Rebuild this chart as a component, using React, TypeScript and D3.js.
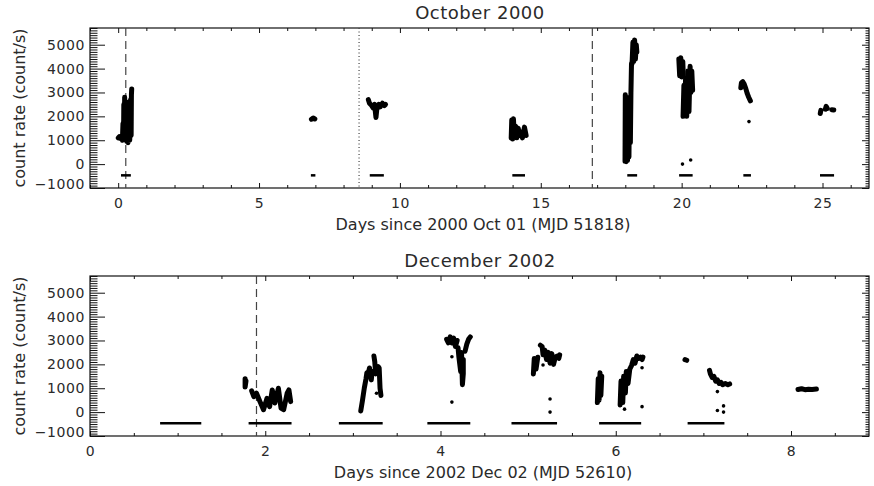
import React, { useEffect, useRef } from 'react';
import * as d3 from 'd3';

type Pt = [number, number];

// October 2000 light curve (days since MJD 51818, count/s)
const octStreaks: Pt[][] = [
  [[0.0, 1100], [0.04, 1150], [0.08, 1080], [0.12, 1120], [0.15, 1000], [0.17, 1700], [0.19, 1050], [0.2, 2500], [0.22, 1100], [0.23, 2800], [0.25, 1300], [0.27, 2300], [0.3, 950], [0.32, 2100], [0.35, 900], [0.38, 2600], [0.41, 1000], [0.44, 2700], [0.46, 1200], [0.47, 2900], [0.48, 3150]],
  [[6.86, 1880], [6.92, 1930], [6.98, 1890]],
  [[8.88, 2700], [8.92, 2550], [9.0, 2450], [9.05, 2350], [9.1, 2500], [9.15, 1950], [9.18, 2300], [9.25, 2500], [9.3, 2400], [9.38, 2550], [9.45, 2450], [9.49, 2500]],
  [[13.95, 1100], [13.97, 1850], [14.0, 1050], [14.03, 1900], [14.06, 1150], [14.1, 1600], [14.15, 1100], [14.2, 1500], [14.25, 1200], [14.3, 1350], [14.35, 1100], [14.42, 1550], [14.48, 1200]],
  [[17.99, 120], [18.0, 2900], [18.03, 100], [18.05, 2600], [18.08, 150], [18.1, 2200], [18.13, 300], [18.15, 2800], [18.18, 900], [18.2, 3000], [18.21, 3600], [18.22, 4200]],
  [[18.24, 4200], [18.27, 5100], [18.3, 4300], [18.33, 5200], [18.36, 4400], [18.39, 5000], [18.41, 4700]],
  [[19.9, 4400], [19.93, 3700], [19.97, 4450], [20.0, 3650], [20.04, 4300], [20.06, 3700]],
  [[20.05, 2000], [20.08, 3300], [20.1, 2100], [20.14, 3600], [20.18, 2000], [20.22, 3900], [20.26, 2200], [20.3, 4100], [20.33, 3000], [20.36, 3900], [20.39, 3100]],
  [[22.1, 3200], [22.12, 3400], [22.17, 3450], [22.22, 3350], [22.28, 3150], [22.33, 2950], [22.38, 2800], [22.44, 2650]],
  [[24.92, 2120], [24.94, 2250]],
  [[25.1, 2300], [25.13, 2420], [25.17, 2330]],
  [[25.33, 2280], [25.4, 2270]],
];
const octDots: Pt[] = [[20.03, 0], [20.32, 170], [22.39, 1780]];
const octBars: Pt[] = [[0.1, 0.45], [6.84, 7.0], [8.93, 9.43], [13.99, 14.44], [18.07, 18.42], [19.91, 20.39], [22.19, 22.46], [24.91, 25.41]];
const octDashed = [0.27, 16.83];
const octDotted = [8.55];

// December 2002 light curve (days since MJD 52610, count/s)
const decStreaks: Pt[][] = [
  [[1.77, 1400], [1.77, 1050], [1.78, 1300]],
  [[1.845, 890], [1.87, 650], [1.9, 790], [1.94, 440], [1.98, 100], [2.02, 580], [2.05, 230], [2.08, 930], [2.11, 380], [2.15, 1000], [2.18, 170], [2.21, 100], [2.25, 790], [2.27, 930], [2.29, 440]],
  [[3.09, 50], [3.11, 500], [3.13, 1000], [3.15, 1400], [3.16, 1650], [3.18, 1700], [3.19, 1850], [3.21, 1350], [3.22, 1700]],
  [[3.24, 2350], [3.25, 2100], [3.26, 1600], [3.27, 1800], [3.29, 1900], [3.3, 1850], [3.31, 1000], [3.32, 700]],
  [[4.07, 3050], [4.09, 2900], [4.11, 3150], [4.13, 2900], [4.15, 3100], [4.17, 2750], [4.19, 3000]],
  [[4.2, 2700], [4.21, 2300], [4.23, 1700], [4.24, 2500], [4.25, 1150], [4.26, 1600], [4.26, 2200]],
  [[4.28, 2550], [4.3, 2850], [4.32, 3050], [4.34, 3150]],
  [[5.06, 1600], [5.07, 2250], [5.09, 1800], [5.11, 2300]],
  [[5.14, 2800], [5.16, 2750], [5.17, 2400], [5.19, 2600], [5.21, 2200], [5.23, 2500], [5.25, 2050], [5.27, 2450], [5.29, 2000], [5.31, 2300], [5.33, 2350], [5.35, 2250], [5.36, 2400]],
  [[5.79, 400], [5.8, 1400], [5.81, 500], [5.82, 1650], [5.83, 700], [5.84, 1500]],
  [[6.05, 300], [6.06, 1300], [6.08, 400], [6.09, 1500], [6.11, 800], [6.12, 1700], [6.14, 1200], [6.16, 1800], [6.18, 1950], [6.2, 2200], [6.22, 2050], [6.24, 2350], [6.26, 2250], [6.28, 2300], [6.3, 2200], [6.31, 2300]],
  [[6.79, 2200], [6.81, 2170]],
  [[7.07, 1750], [7.08, 1600], [7.1, 1450], [7.12, 1500], [7.14, 1300], [7.16, 1350], [7.18, 1200], [7.2, 1250], [7.22, 1150], [7.25, 1200], [7.28, 1150], [7.3, 1180]],
  [[8.08, 950], [8.12, 980], [8.16, 940], [8.2, 960], [8.24, 950], [8.29, 970]],
];
const decDots: Pt[] = [[3.27, 790], [4.13, 2320], [4.13, 420], [5.17, 1970], [5.25, 550], [5.25, 0], [6.1, 125], [6.3, 230], [6.3, 1860], [7.16, 860], [7.16, 70], [7.23, 260], [7.23, 0]];
const decBars: Pt[] = [[0.8, 1.27], [1.81, 2.3], [2.84, 3.34], [3.85, 4.34], [4.81, 5.33], [5.81, 6.29], [6.82, 7.24]];
const decDashed = [1.9];
const decDotted: number[] = [];

const yTicks = [-1000, 0, 1000, 2000, 3000, 4000, 5000];
const barLevel = -470;

const FONT = '"DejaVu Sans", sans-serif';
const INK = '#2a2a2a';

interface Panel {
  title: string;
  xlabel: string;
  xDomain: [number, number];
  xMajor: number[];
  xMinorStep: number;
  top: number;
  streaks: Pt[][];
  dots: Pt[];
  bars: Pt[];
  dashed: number[];
  dotted: number[];
}

const panels: Panel[] = [
  { title: 'October 2000', xlabel: 'Days since 2000 Oct 01 (MJD 51818)', xDomain: [-1, 26.65], xMajor: [0, 5, 10, 15, 20, 25], xMinorStep: 1, top: 28, streaks: octStreaks, dots: octDots, bars: octBars, dashed: octDashed, dotted: octDotted },
  { title: 'December 2002', xlabel: 'Days since 2002 Dec 02 (MJD 52610)', xDomain: [0, 8.89], xMajor: [0, 2, 4, 6, 8], xMinorStep: 0.5, top: 276, streaks: decStreaks, dots: decDots, bars: decBars, dashed: decDashed, dotted: decDotted },
];

const App = () => {
  const svgRef = useRef<SVGSVGElement>(null);

  useEffect(() => {
    const svg = d3.select(svgRef.current);
    svg.selectAll('*').remove();

    const left = 90, right = 869, h = 160;

    panels.forEach(p => {
      const x = d3.scaleLinear().domain(p.xDomain).range([left, right]);
      const y = d3.scaleLinear().domain([-1000, 5700]).range([p.top + h, p.top]);
      const g = svg.append('g');

      const xMinor = d3.range(Math.ceil(p.xDomain[0] / p.xMinorStep) * p.xMinorStep, p.xDomain[1] + 1e-9, p.xMinorStep)
        .filter(v => !p.xMajor.some(m => Math.abs(m - v) < 1e-9));
      const yMinor = d3.range(-1000, 5701, 100).filter(v => v % 1000 !== 0);

      const style = (sel: any) => {
        sel.select('.domain').remove();
        sel.selectAll('line').attr('stroke', '#111').attr('stroke-width', 1);
        sel.selectAll('text').attr('font-family', FONT).attr('font-size', 14).attr('letter-spacing', 0.6).attr('fill', INK);
      };

      // left axis
      g.append('g').attr('transform', `translate(${left},0)`)
        .call(d3.axisLeft(y).tickValues(yMinor).tickSize(-7.5).tickFormat(() => '')).call(style);
      const yl = g.append('g').attr('transform', `translate(${left},0)`)
        .call(d3.axisLeft(y).tickValues(yTicks).tickSize(-15).tickPadding(5).tickFormat(d3.format('d'))).call(style);
      // lowest label sits a little above the axis corner
      yl.selectAll('text').filter((d: any) => d === -1000).attr('y', -4);
      // right axis
      g.append('g').attr('transform', `translate(${right},0)`)
        .call(d3.axisRight(y).tickValues(yMinor).tickSize(-3.5).tickFormat(() => '')).call(style);
      g.append('g').attr('transform', `translate(${right},0)`)
        .call(d3.axisRight(y).tickValues(yTicks).tickSize(-7).tickFormat(() => '')).call(style);
      // bottom axis
      g.append('g').attr('transform', `translate(0,${p.top + h})`)
        .call(d3.axisBottom(x).tickValues(xMinor).tickSize(-3).tickFormat(() => '')).call(style);
      g.append('g').attr('transform', `translate(0,${p.top + h})`)
        .call(d3.axisBottom(x).tickValues(p.xMajor).tickSize(-5).tickPadding(10).tickFormat(d3.format('d'))).call(style);
      // top axis
      g.append('g').attr('transform', `translate(0,${p.top})`)
        .call(d3.axisTop(x).tickValues(xMinor).tickSize(-3).tickFormat(() => '')).call(style);
      g.append('g').attr('transform', `translate(0,${p.top})`)
        .call(d3.axisTop(x).tickValues(p.xMajor).tickSize(-5).tickFormat(() => '')).call(style);

      g.append('rect')
        .attr('x', left).attr('y', p.top).attr('width', right - left).attr('height', h)
        .attr('fill', 'none').attr('stroke', '#111').attr('stroke-width', 1.2);

      // vertical markers
      g.selectAll('.dash').data(p.dashed).enter().append('line')
        .attr('x1', d => x(d)).attr('x2', d => x(d))
        .attr('y1', p.top).attr('y2', p.top + h)
        .attr('stroke', '#444').attr('stroke-width', 1.2).attr('stroke-dasharray', '8,5');
      g.selectAll('.dot').data(p.dotted).enter().append('line')
        .attr('x1', d => x(d)).attr('x2', d => x(d))
        .attr('y1', p.top).attr('y2', p.top + h)
        .attr('stroke', '#444').attr('stroke-width', 1.2).attr('stroke-dasharray', '1,2.5');

      // observation windows
      g.selectAll('.bar').data(p.bars).enter().append('line')
        .attr('x1', d => x(d[0])).attr('x2', d => x(d[1]))
        .attr('y1', y(barLevel)).attr('y2', y(barLevel))
        .attr('stroke', '#000').attr('stroke-width', 2.5);

      // light curves
      const line = d3.line<Pt>().x(d => x(d[0])).y(d => y(d[1]));
      g.selectAll('.streak').data(p.streaks).enter().append('path')
        .attr('d', d => line(d))
        .attr('fill', 'none').attr('stroke', '#000').attr('stroke-width', 5)
        .attr('stroke-linejoin', 'round').attr('stroke-linecap', 'round');
      g.selectAll('.pt').data(p.dots).enter().append('circle')
        .attr('cx', d => x(d[0])).attr('cy', d => y(d[1])).attr('r', 1.8).attr('fill', '#000');

      // texts
      g.append('text').attr('x', 480).attr('y', p.top - 9).attr('text-anchor', 'middle')
        .attr('font-family', FONT).attr('font-size', 18).attr('letter-spacing', 0.5).attr('fill', INK)
        .text(p.title);
      g.append('text').attr('x', 483).attr('y', p.top + h + 42).attr('text-anchor', 'middle')
        .attr('font-family', FONT).attr('font-size', 16).attr('fill', INK)
        .text(p.xlabel);
      g.append('text')
        .attr('transform', `translate(25,${p.top + h / 2}) rotate(-90)`)
        .attr('text-anchor', 'middle')
        .attr('font-family', FONT).attr('font-size', 16).attr('fill', INK)
        .text('count rate (count/s)');
    });
  }, []);

  return (
    <svg ref={svgRef} width={874} height={486}
      style={{ position: 'absolute', left: 0, top: 0, background: '#fff' }} />
  );
};

export default App;
